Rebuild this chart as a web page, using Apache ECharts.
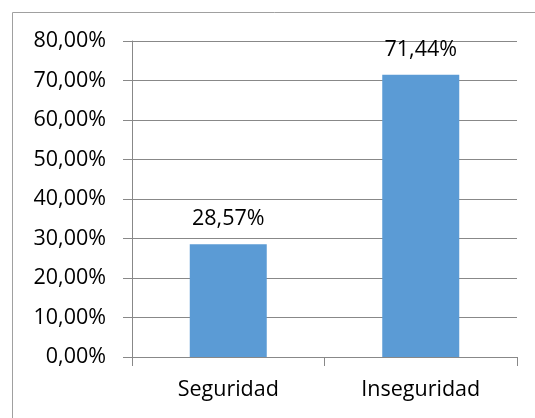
<!DOCTYPE html>
<html>
<head>
<meta charset="utf-8">
<script src="https://cdn.jsdelivr.net/npm/echarts@6/dist/echarts.min.js"></script>
<style>
  html, body { margin: 0; padding: 0; background: #fff; }
  #chart { width: 535px; height: 418px; }
</style>
</head>
<body>
<div id="chart"></div>
<script>
var categories = ['Seguridad', 'Inseguridad'];
var values = [28.57, 71.44];
var yTicks = [0, 10, 20, 30, 40, 50, 60, 70, 80];

function pct(v) {
    return v.toFixed(2).replace('.', ',') + '%';
}

var chart = echarts.init(document.getElementById('chart'));
var option = {
    animation: false,
    textStyle: { fontFamily: 'Open Sans' },
    graphic: [{
        type: 'rect',
        left: 10, top: 10,
        shape: { width: 540, height: 420 },
        style: { fill: 'none', stroke: '#a0a0a0', lineWidth: 1 }
    }],
    grid: { left: 132, right: 18, top: 41, bottom: 61 },
    xAxis: {
        type: 'category',
        data: categories,
        axisLine: { lineStyle: { color: '#888', width: 1 } },
        axisTick: { show: true, length: 9, lineStyle: { color: '#888' } },
        axisLabel: { color: '#000', fontSize: 21.5, margin: 22 }
    },
    yAxis: {
        type: 'value',
        min: yTicks[0],
        max: yTicks[yTicks.length - 1],
        interval: 10,
        axisLine: { show: true, lineStyle: { color: '#888', width: 1 } },
        axisTick: { show: true, length: 9, lineStyle: { color: '#888' } },
        axisLabel: { color: '#000', fontSize: 21.5, margin: 26, formatter: pct },
        splitLine: { lineStyle: { color: '#888', width: 1 } }
    },
    series: [{
        type: 'bar',
        data: values,
        barWidth: '40%',
        itemStyle: { color: '#5B9BD5' },
        label: {
            show: true,
            position: 'top',
            distance: 14,
            color: '#000',
            fontSize: 21.5,
            formatter: function (p) { return pct(p.value); }
        }
    }]
};
chart.setOption(option);
</script>
</body>
</html>
